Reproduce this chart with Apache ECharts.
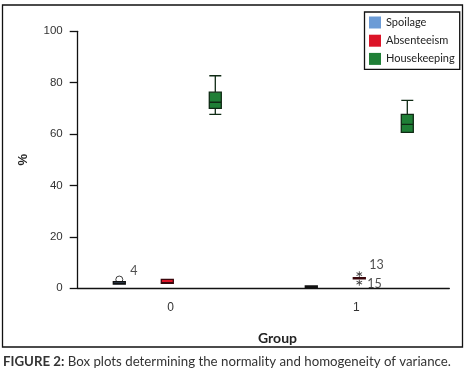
<!DOCTYPE html>
<html>
	<head>
		<meta charset="utf-8" />
		<title>Box plots</title>
	</head>
	<body style="margin:0">
		<div id="main" style="width: 472px;height: 372px"></div>

		<script src="https://cdn.jsdelivr.net/npm/echarts@6/dist/echarts.min.js"></script>
		<script type="text/javascript">
			// groups and box data: [min, Q1, median, Q3, max]
			var groups = ['0', '1'];
			var seriesNames = ['Spoilage', 'Absenteeism', 'Housekeeping'];
			var spoilage = [[1.6, 1.6, 2.0, 2.6, 2.6], [0.2, 0.2, 0.5, 0.9, 0.9]];
			var absenteeism = [[1.9, 1.9, 2.2, 3.5, 3.5], [3.7, 3.7, 3.9, 4.1, 4.1]];
			var housekeeping = [[67.7, 70.0, 72.4, 76.3, 82.7], [60.7, 60.7, 63.8, 67.7, 73.1]];
			var yTicks = [0, 20, 40, 60, 80, 100];

			// outliers: series index, group index, value, case label
			var outlierSeries = [0, 1, 1];
			var outlierGroup = [0, 1, 1];
			var outlierValue = [3.4, 5.5, 2.2];
			var outlierLabel = ['4', '13', '15'];

			var colors = ['#6b9bd6', '#dc1428', '#1f7f36'];
			var borders = ['#111', '#3a070c', '#0f2a14'];

			// each box gets its own slot on a hidden axis: group * 4 + series
			var slots = [];
			for (var k = 0; k < groups.length * 4 - 1; k++) slots.push('s' + k);
			function slotOf(g, s) {
				return g * 4 + s;
			}

			// SPSS style extreme marker
			var star =
				'path://M4.3,0h1.4v10h-1.4z' +
				'M1.02,1.894L9.68,6.894L8.98,8.106L0.32,3.106z' +
				'M0.32,6.894L8.98,1.894L9.68,3.106L1.02,8.106z';

			var outlierData = outlierValue.map(function (v, i) {
				var s = outlierSeries[i];
				var lbl = outlierLabel[i];
				return {
					value: [slotOf(outlierGroup[i], s), v],
					symbol: s === 0 ? 'circle' : star,
					symbolSize: s === 0 ? 7 : 6,
					itemStyle: s === 0 ? { color: '#fff', borderColor: '#111', borderWidth: 1 } : { color: '#111' },
					label: {
						show: true,
						formatter: lbl,
						position: 'right',
						offset: lbl === '15' ? [0, 1] : [2, -9],
					},
				};
			});

			var allData = [spoilage, absenteeism, housekeeping];
			var series = seriesNames.map(function (name, i) {
				var d = slots.map(function () {
					return '-';
				});
				allData[i].forEach(function (box, g) {
					d[slotOf(g, i)] = box;
				});
				return {
					name: name,
					type: 'boxplot',
					xAxisIndex: i + 1,
					yAxisIndex: 1,
					z: 3,
					boxWidth: [12, 12],
					data: d,
					itemStyle: { color: colors[i], borderColor: borders[i], borderWidth: 1.3 },
					emphasis: { disabled: true },
				};
			});
			series.push({
				type: 'scatter',
				xAxisIndex: 1,
				yAxisIndex: 1,
				z: 2,
				data: outlierData,
				label: { color: '#222', fontFamily: 'Lato', fontSize: 12.5 },
				emphasis: { disabled: true },
			});

			var hiddenX = [1, 2, 3].map(function () {
				return { type: 'category', gridIndex: 1, data: slots, show: false };
			});

			var myChart = echarts.init(document.getElementById('main'));
			var option = {
				animation: false,
				backgroundColor: '#fff',
				grid: [
					{ left: 77.7, right: 22.7, top: 31.3, bottom: 83.7 },
					{ left: 95.3, right: 40.7, top: 31.3, bottom: 83.7 },
				],
				legend: {
					orient: 'vertical',
					left: 364.5,
					top: 12,
					data: seriesNames.map(function (n, i) {
						return { name: n, itemStyle: { color: colors[i], borderWidth: 0 } };
					}),
					icon: 'rect',
					itemWidth: 12,
					itemHeight: 12,
					itemGap: 6.2,
					padding: [4.5, 5, 4.5, 4.5],
					borderColor: '#111',
					borderWidth: 1.3,
					textStyle: { fontFamily: 'Lato', fontSize: 11, color: '#222' },
					selectedMode: false,
				},
				xAxis: [
					{
						type: 'category',
						data: groups,
						name: 'Group',
						nameLocation: 'middle',
						nameGap: 43,
						nameTextStyle: { fontFamily: 'Lato', fontWeight: 'bold', fontSize: 14, color: '#222', padding: [0, 0, 0, 28] },
						axisLine: { lineStyle: { color: '#111', width: 1.3 } },
						axisTick: { length: 8, lineStyle: { color: '#111', width: 1.3 } },
						axisLabel: { margin: 13, color: '#333', fontFamily: 'Liberation Sans', fontSize: 12 },
					},
				].concat(hiddenX),
				yAxis: [
					{
						type: 'value',
						min: yTicks[0],
						max: yTicks[yTicks.length - 1],
						interval: 20,
						name: '%',
						nameLocation: 'middle',
						nameGap: 48,
						nameTextStyle: { fontFamily: 'Liberation Sans', fontWeight: 'bold', fontSize: 13, color: '#222' },
						axisLine: { show: true, onZero: false, lineStyle: { color: '#111', width: 1.3 } },
						axisTick: { show: true, length: 8, lineStyle: { color: '#111', width: 1.3 } },
						axisLabel: { margin: 15, color: '#333', fontFamily: 'Liberation Sans', fontSize: 11.5 },
						splitLine: { show: false },
					},
					{
						type: 'value',
						gridIndex: 1,
						min: yTicks[0],
						max: yTicks[yTicks.length - 1],
						show: false,
					},
				],
				graphic: [
					{
						type: 'rect',
						shape: { x: 2.5, y: 5, width: 460, height: 342 },
						style: { fill: 'none', stroke: '#111', lineWidth: 1.3 },
						silent: true,
					},
					{
						type: 'text',
						left: 3,
						top: 355,
						style: {
							text: '{b|FIGURE 2:} Box plots determining the normality and homogeneity of variance.',
							font: '13.25px Lato',
							fill: '#333',
							rich: { b: { fontFamily: 'Lato', fontWeight: 'bold', fontSize: 13.25, fill: '#333' } },
						},
					},
				],
				series: series,
			};
			myChart.setOption(option);
		</script>
	</body>
</html>
